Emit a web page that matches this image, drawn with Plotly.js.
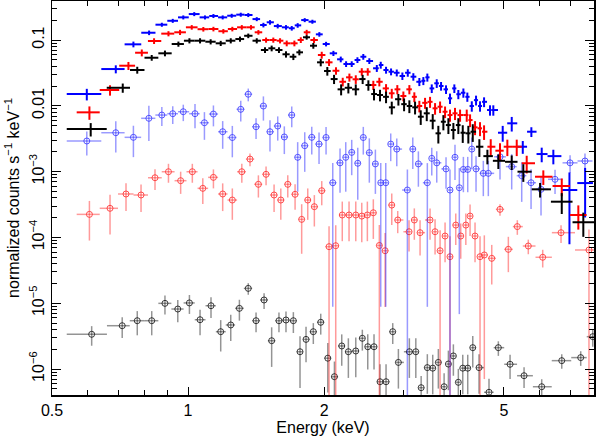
<!DOCTYPE html>
<html>
<head>
<meta charset="utf-8">
<script src="https://cdn.plot.ly/plotly-3.0.1.min.js"></script>
<style>body{margin:0;background:#fff}#spec{width:598px;height:436px}</style>
</head>
<body>
<div id="spec"></div>
<script>
// blue crosses
var eBX = [0.597,0.692,0.757,0.820,0.875,0.925,0.976,1.032,1.090,1.138,1.193,1.249,1.308,1.359,1.419,1.468,1.518,1.579,1.647,1.696,
  1.748,1.812,1.884,1.952,2.020,2.097,2.177,2.237,2.302,2.370,2.442,2.518,2.616,2.669,2.742,2.813,2.896,2.980,3.063,3.151,
  3.249,3.316,3.384,3.461,3.550,3.629,3.722,3.798,3.883,3.963,4.066,4.149,4.244,4.337,4.426,4.518,4.657,4.736,4.968,5.202,
  5.503,5.749,6.06,6.43,6.98,7.56];
var vBX = [0.0151,0.0362,0.086,0.129,0.171,0.196,0.221,0.248,0.221,0.232,0.221,0.234,0.243,0.240,0.208,0.169,0.186,0.163,0.156,0.151,
  0.167,0.201,0.190,0.122,0.0869,0.0628,0.0509,0.0432,0.0432,0.0497,0.0557,0.048,0.0372,0.0417,0.035,0.033,0.0318,0.0284,0.0318,0.0277,
  0.0232,0.0240,0.0271,0.0184,0.0220,0.020,0.0178,0.0130,0.0184,0.0150,0.0158,0.0137,0.00993,0.0122,0.00993,0.0115,0.00863,0.00863,0.0039,0.00542,
  0.00239,0.00404,0.00185,0.00172,0.000525,0.00067];
var rBX = [0.2,0.14,0.1,0.08,0.07,0.07,0.07,0.07,0.07,0.07,0.07,0.07,0.07,0.07,0.07,0.08,0.08,0.08,0.08,0.08,
  0.08,0.07,0.07,0.08,0.08,0.09,0.1,0.1,0.1,0.1,0.1,0.1,0.12,0.12,0.12,0.12,0.12,0.13,0.13,0.13,
  0.14,0.14,0.14,0.15,0.15,0.15,0.15,0.18,0.15,0.16,0.16,0.16,0.18,0.17,0.18,0.17,0.18,0.18,0.27,0.25,
  0.22,0.17,0.25,0.25,0.85,0.7];

// red crosses
var eRX = [0.605,0.672,0.738,0.790,0.841,0.905,0.960,1.019,1.081,1.138,1.197,1.253,1.315,1.378,1.431,1.488,1.544,1.598,1.653,1.719,
  1.776,1.830,1.900,1.976,2.051,2.125,2.199,2.275,2.350,2.423,2.498,2.570,2.650,2.742,2.823,2.904,2.995,3.088,3.167,3.249,
  3.345,3.431,3.520,3.611,3.704,3.798,3.896,3.998,4.136,4.207,4.315,4.426,4.518,4.674,4.900,5.087,5.336,5.614,6.110,6.712,
  7.303];
var vRX = [0.00796,0.0174,0.0407,0.0641,0.0966,0.125,0.131,0.156,0.146,0.147,0.136,0.147,0.156,0.156,0.131,0.100,0.100,0.0976,0.0891,0.0891,
  0.100,0.131,0.100,0.0592,0.0458,0.0341,0.0232,0.0271,0.0253,0.0330,0.0330,0.0207,0.0232,0.0184,0.0155,0.0178,0.0141,0.0178,0.0137,0.00993,
  0.0111,0.0115,0.00916,0.00969,0.00813,0.00724,0.00769,0.00724,0.00724,0.00608,0.00471,0.00455,0.00404,0.00239,0.00208,0.00239,0.00239,0.00134,0.000836,0.000604,
  0.000219];
var rRX = [0.23,0.18,0.14,0.12,0.1,0.09,0.09,0.08,0.08,0.08,0.08,0.08,0.08,0.08,0.08,0.09,0.09,0.09,0.1,0.1,
  0.1,0.09,0.1,0.12,0.12,0.13,0.15,0.14,0.15,0.13,0.13,0.16,0.15,0.16,0.17,0.16,0.17,0.16,0.17,0.2,
  0.19,0.19,0.2,0.2,0.2,0.21,0.21,0.21,0.21,0.22,0.24,0.24,0.25,0.3,0.3,0.28,0.28,0.3,0.25,0.3,
  0.4];

// black crosses
var eKX = [0.609,0.717,0.772,0.831,0.889,0.952,1.007,1.063,1.122,1.181,1.243,1.303,1.359,1.419,1.480,1.531,1.589,1.647,1.710,1.763,
  1.830,1.893,1.966,2.033,2.104,2.181,2.263,2.350,2.434,2.506,2.579,2.659,2.742,2.823,2.920,3.006,3.088,3.179,3.272,3.374,
  3.478,3.579,3.672,3.767,3.864,3.963,4.053,4.170,4.265,4.411,4.595,4.859,5.201,5.518,6.010,6.712,7.491];
var vKX = [0.00444,0.0188,0.0350,0.0538,0.0628,0.0869,0.0976,0.0976,0.0942,0.0891,0.0976,0.1035,0.116,0.0976,0.0705,0.0748,0.0705,0.0607,0.0557,0.0650,
  0.110,0.0819,0.0458,0.0338,0.0255,0.0178,0.0188,0.0178,0.0255,0.0207,0.0151,0.0146,0.0137,0.00948,0.0126,0.0106,0.00993,0.00948,0.00683,0.00769,
  0.00594,0.00382,0.00573,0.00510,0.00429,0.00510,0.00390,0.00382,0.00404,0.00239,0.00172,0.00146,0.00141,0.000997,0.000538,0.000349,0.000170];
var rKX = [0.23,0.16,0.12,0.1,0.1,0.09,0.09,0.09,0.09,0.09,0.09,0.09,0.08,0.09,0.1,0.1,0.1,0.11,0.11,0.1,
  0.08,0.1,0.13,0.15,0.16,0.19,0.18,0.19,0.16,0.18,0.2,0.2,0.2,0.22,0.2,0.22,0.22,0.22,0.25,0.24,
  0.26,0.3,0.26,0.27,0.28,0.27,0.3,0.3,0.3,0.3,0.25,0.25,0.25,0.3,0.25,0.35,0.4];

// blue circles
var eBC = [0.597,0.692,0.757,0.819,0.875,0.925,0.976,1.036,1.087,1.138,1.193,1.253,1.308,1.359,1.414,1.468,1.518,1.579,1.633,1.696,
  1.748,1.812,1.878,1.949,2.020,2.090,2.169,2.233,2.302,2.374,2.442,2.518,2.597,2.669,2.738,2.808,2.896,3.057,3.142,3.233,
  3.384,3.461,3.550,3.722,3.798,3.896,3.983,4.066,4.157,4.244,4.337,4.501,4.617,4.900,5.201,5.473,5.740,6.039,6.486,7.002,
  7.555];
var vBC = [0.00292,0.00390,0.00332,0.00646,0.00724,0.00759,0.00813,0.00759,0.00553,0.00750,0.00404,0.00330,0.00885,0.0150,0.00481,0.00993,0.00404,0.00493,0.00336,0.00724,
  0.00165,0.00248,0.00332,0.00262,0.00330,0.000678,0.00136,0.00165,0.00196,0.00134,0.00330,0.00194,0.00131,0.000678,0.000678,0.00262,0.00220,0.000525,0.00220,0.00131,
  0.000678,0.00159,0.00136,0.00110,0.000525,0.00165,0.000569,0.00108,0.00108,0.00220,0.00110,0.000942,0.000942,0.00168,0.00119,0.000867,0.000678,0.000538,0.000764,0.00136,
  0.00145];
var rBC = [0.4,0.5,0.5,0.55,0.32,0.3,0.28,0.4,0.45,0.35,0.45,0.5,0.35,0.22,0.35,0.4,0.5,0.4,0.45,0.35,
  0.7,0.6,0.45,0.5,0.45,0.987,0.65,0.7,0.55,0.72,0.45,0.65,0.65,0.987,0.987,0.45,0.45,1.05,0.5,0.55,
  0.987,0.45,0.5,0.5,1.05,0.55,0.988,0.55,0.55,0.5,0.55,0.55,0.55,0.55,0.55,0.6,0.6,0.6,0.4,0.3,
  0.3];

// red circles
var eRC = [0.605,0.672,0.729,0.787,0.845,0.905,0.963,1.022,1.078,1.138,1.193,1.253,1.315,1.371,1.431,1.488,1.550,1.604,1.662,1.725,
  1.784,1.840,1.903,1.976,2.051,2.122,2.194,2.271,2.350,2.423,2.493,2.570,2.650,2.729,2.823,2.910,3.083,3.167,3.261,3.431,
  3.520,3.611,3.704,3.798,3.911,4.012,4.117,4.207,4.315,4.426,4.524,4.698,4.900,5.113,5.352,5.660,6.091,6.687,7.71];
var vRC = [0.000224,0.000277,0.000457,0.000441,0.000807,0.000996,0.000728,0.000996,0.000557,0.000818,0.000457,0.000370,0.000996,0.00155,0.000641,0.000910,0.000441,0.000370,0.000641,0.000452,
  0.000188,0.000370,0.000293,0.000513,0.0000723,0.0000748,0.000219,0.000219,0.000219,0.000211,0.000219,0.000237,0.0000754,0.0000628,0.000310,0.000184,0.000122,0.000184,0.000118,0.000184,
  0.000122,0.0000628,0.000105,0.0000509,0.000154,0.000105,0.000154,0.000211,0.000105,0.0000509,0.0000541,0.0000481,0.000267,0.0000659,0.000146,0.0000740,0.0000499,0.000118,0.0000644];
var rRC = [0.6,0.6,0.45,0.45,0.35,0.32,0.37,0.32,0.42,0.32,0.45,0.5,0.32,0.22,0.37,0.32,0.45,0.5,0.37,0.42,
  0.7,0.5,0.5,0.4,1.05,1.05,0.6,0.6,0.6,0.6,0.6,0.6,1.05,0.86,0.5,0.37,0.5,0.5,0.55,0.5,
  0.55,1.05,0.6,1.05,0.5,0.55,0.5,0.5,0.6,1.05,0.987,0.6,0.2,0.55,0.25,0.25,0.3,0.3,1.05];

// black (grey) circles
var eGC = [0.612,0.715,0.772,0.831,0.889,0.949,1.007,1.063,1.124,1.181,1.243,1.299,1.359,1.414,1.473,1.531,1.589,1.647,1.710,1.769,
  1.824,1.893,1.966,2.038,2.108,2.188,2.263,2.350,2.430,2.498,2.579,2.659,2.742,2.837,2.920,3.088,3.191,3.279,3.384,3.478,
  3.579,3.686,3.767,3.864,3.963,4.053,4.157,4.265,4.404,4.633,4.859,5.158,5.539,6.06,6.712,7.392,7.86];
var vGC = [3.37e-6,4.55e-6,5.42e-6,5.42e-6,9.95e-6,8.16e-6,1.01e-5,5.61e-6,9.16e-6,3.69e-6,4.67e-6,8.36e-6,1.68e-5,5.42e-6,1.12e-5,2.69e-6,5.42e-6,5.56e-6,5.42e-6,1.83e-6,
  2.82e-6,3.69e-6,5.13e-6,1.46e-6,7.64e-7,2.24e-6,1.83e-6,1.88e-6,2.93e-6,2.18e-6,2.18e-6,6.41e-7,6.41e-7,3.69e-6,1.26e-6,1.83e-6,1.83e-6,5.20e-7,1.05e-6,1.03e-6,
  1.26e-6,5.38e-7,1.19e-6,1.58e-6,6.28e-7,1.03e-6,1.03e-6,2.11e-6,1.05e-6,4.43e-7,2.11e-6,1.18e-6,7.91e-7,5.38e-7,1.34e-6,1.49e-6,3.10e-6];
var rGC = [0.33,0.35,0.4,0.4,0.32,0.37,0.32,0.42,0.35,0.5,0.43,0.35,0.2,0.33,0.27,0.6,0.33,0.35,0.35,0.72,
  0.55,0.35,0.35,0.7,0.7,0.5,0.6,0.6,0.35,0.55,0.55,0.85,0.85,0.35,0.6,0.6,0.6,0.5,0.6,0.6,
  0.6,0.6,0.6,0.5,0.6,0.6,0.6,0.5,0.6,0.6,0.25,0.4,0.35,0.3,0.25,0.25,0.3];

// low edge of the first channel of each data group (keV)
var lowEdge = {BX: 0.539, RX: 0.567, KX: 0.539, BC: 0.539, RC: 0.567, GC: 0.539};

var xTicks = [0.5, 1, 2, 5];
var xTickText = ['0.5', '1', '2', '5'];
var xMinor = [0.6, 0.7, 0.8, 0.9, 3, 4, 6, 7];
var yTicks = [1e-6, 1e-5, 1e-4, 1e-3, 0.01, 0.1];
var yTickText = ['10<sup>\u22126</sup>', '10<sup>\u22125</sup>', '10<sup>\u22124</sup>', '10<sup>\u22123</sup>', '0.01', '0.1'];

// channel bins are contiguous: edges halfway (in log) between neighbouring channels
function binEdges(e, first) {
  var lo = [], hi = [], n = e.length;
  var l = e.map(Math.log);
  for (var i = 0; i < n; i++) {
    var a = i > 0 ? (l[i] + l[i-1]) / 2 : Math.log(first);
    var b = i < n - 1 ? (l[i] + l[i+1]) / 2 : l[i] + (l[i] - l[i-1]) / 2;
    lo.push(e[i] - Math.exp(a));
    hi.push(Math.exp(b) - e[i]);
  }
  return [lo, hi];
}

function spec(e, v, r, first, barCol, thick, mk) {
  var ed = binEdges(e, first);
  return {
    x: e, y: v, type: 'scatter', mode: 'markers', hoverinfo: 'skip', showlegend: false,
    error_x: {type: 'data', symmetric: false, array: ed[1], arrayminus: ed[0], color: barCol, thickness: thick, width: 0},
    error_y: {type: 'data', symmetric: true, array: v.map(function(y, i) { return y * r[i]; }), color: barCol, thickness: thick, width: 0},
    marker: mk || {size: 1, opacity: 0}
  };
}

function ring(c) {
  return {symbol: 'circle-open', size: 6, color: c, line: {color: c, width: 1}};
}

var data = [
  spec(eGC, vGC, rGC, lowEdge.GC, 'rgba(0,0,0,0.42)', 1.5, ring('rgba(0,0,0,0.75)')),
  spec(eRC, vRC, rRC, lowEdge.RC, 'rgba(255,30,30,0.45)', 1.5, ring('rgba(255,40,40,0.8)')),
  spec(eBC, vBC, rBC, lowEdge.BC, 'rgba(30,30,255,0.45)', 1.5, ring('rgba(40,40,255,0.75)')),
  spec(eBX, vBX, rBX, lowEdge.BX, '#0000ff', 2),
  spec(eRX, vRX, rRX, lowEdge.RX, '#ff0000', 2),
  spec(eKX, vKX, rKX, lowEdge.KX, '#000000', 2)
];

var yMinor = [];
for (var d = -7; d <= -1; d++) for (var k = 2; k <= 9; k++) yMinor.push(k * Math.pow(10, d));

var fnt = {family: 'Liberation Sans, Arial, sans-serif', size: 16, color: '#000'};

var layout = {
  width: 598, height: 436,
  paper_bgcolor: '#fff', plot_bgcolor: '#fff',
  margin: {l: 52, r: 4, t: 1, b: 41},
  font: fnt,
  xaxis: {
    type: 'log', range: [Math.log10(0.5), Math.log10(7.91)],
    tickmode: 'array', tickvals: xTicks, ticktext: xTickText,
    ticks: 'inside', ticklen: 8, tickwidth: 1, tickcolor: '#000',
    minor: {tickmode: 'array', tickvals: xMinor, ticks: 'inside', ticklen: 5, tickwidth: 1, tickcolor: '#000', showgrid: false},
    showline: true, linecolor: '#000', linewidth: 1.5, mirror: 'ticks',
    showgrid: false, zeroline: false,
    title: {text: 'Energy (keV)', font: fnt, standoff: 4}
  },
  yaxis: {
    type: 'log', range: [-6.395, -0.407],
    tickmode: 'array', tickvals: yTicks, ticktext: yTickText, tickangle: -90,
    ticks: 'inside', ticklen: 9, tickwidth: 1, tickcolor: '#000',
    minor: {tickmode: 'array', tickvals: yMinor, ticks: 'inside', ticklen: 5, tickwidth: 1, tickcolor: '#000', showgrid: false},
    showline: true, linecolor: '#000', linewidth: 1.5, mirror: 'ticks',
    showgrid: false, zeroline: false,
    title: {text: 'normalized counts s<sup>\u22121</sup> keV<sup>\u22121</sup>', font: fnt, standoff: 4}
  }
};

Plotly.newPlot('spec', data, layout, {displayModeBar: false, staticPlot: true});
</script>
</body>
</html>
